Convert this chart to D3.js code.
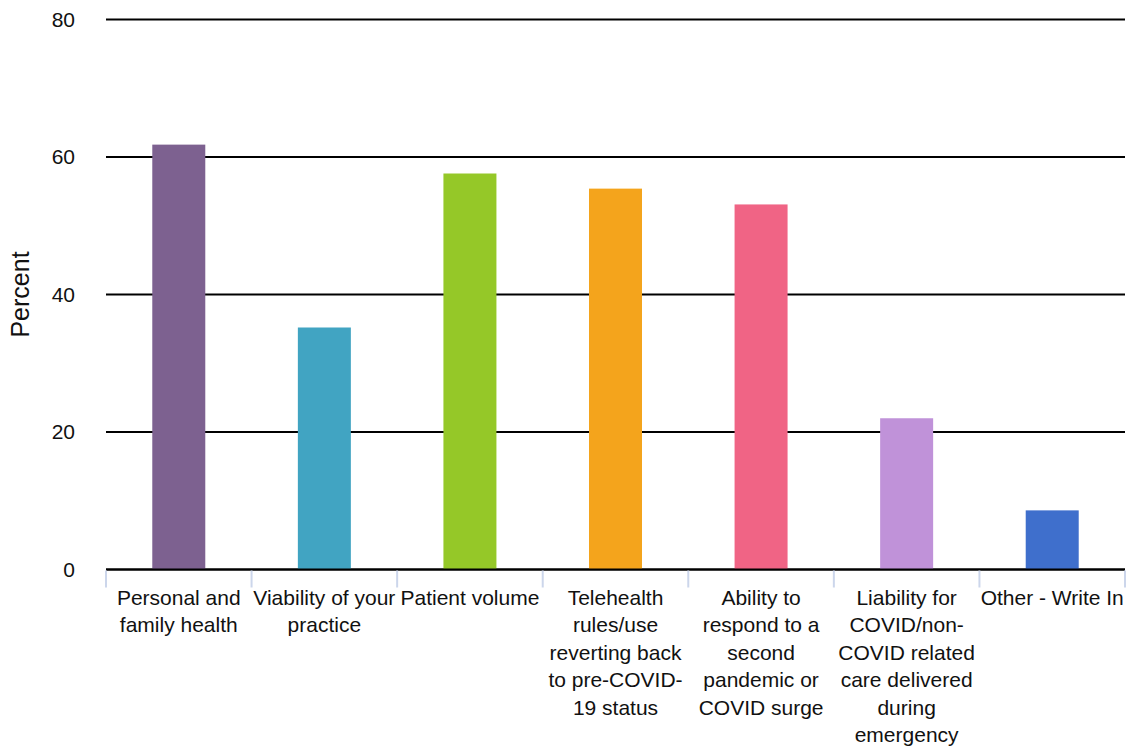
<!DOCTYPE html>
<html>
<head>
<meta charset="utf-8">
<script src="https://cdn.jsdelivr.net/npm/d3@7"></script>
<style>
  html, body { margin: 0; padding: 0; background: #fff; }
  svg { display: block; font-family: "Liberation Sans", Arial, Helvetica, sans-serif; }
</style>
</head>
<body>
<svg id="chart" width="1127" height="751"></svg>
<script>
const categories = [
  "Personal and family health",
  "Viability of your practice",
  "Patient volume",
  "Telehealth rules/use reverting back to pre-COVID-19 status",
  "Ability to respond to a second pandemic or COVID surge",
  "Liability for COVID/non-COVID related care delivered during emergency",
  "Other - Write In"
];
const values = [61.8, 35.2, 57.6, 55.4, 53.1, 22.0, 8.6];
const colors = ["#7d6190", "#41a4c2", "#95c828", "#f4a41c", "#f06485", "#c092d9", "#3f6fcc"];
const yTicks = [0, 20, 40, 60, 80];
const yTitle = "Percent";

const svg = d3.select("#chart");
const W = 1127, H = 751;
const plotLeft = 106, plotRight = 1125, plotTop = 19.5, plotBottom = 569.5;
const x = d3.scaleBand().domain(categories).range([plotLeft, plotRight]).paddingInner(0).paddingOuter(0);
const y = d3.scaleLinear().domain([0, 80]).range([plotBottom, plotTop]);

// gridlines
const grid = svg.append("g").attr("class", "grid");
grid.selectAll("line").data(yTicks).join("line")
  .attr("x1", plotLeft).attr("x2", plotRight)
  .attr("y1", d => y(d)).attr("y2", d => y(d))
  .attr("stroke", "#000").attr("stroke-width", 2);

// y labels
const yAxis = d3.axisLeft(y).tickValues(yTicks).tickSize(0).tickPadding(31);
const ya = svg.append("g").attr("transform", `translate(${plotLeft},0)`).call(yAxis);
ya.select(".domain").remove();
ya.selectAll("text").attr("font-size", 21).attr("fill", "#111").attr("font-family", "Liberation Sans, Arial, sans-serif");

// bars
const bw = 53;
svg.append("g").selectAll("rect").data(values).join("rect")
  .attr("x", (d, i) => x(categories[i]) + x.bandwidth() / 2 - bw / 2)
  .attr("width", bw)
  .attr("y", d => y(d))
  .attr("height", d => y(0) - y(d))
  .attr("fill", (d, i) => colors[i]);

// x axis line on top
svg.append("line").attr("x1", plotLeft).attr("x2", plotRight)
  .attr("y1", y(0)).attr("y2", y(0)).attr("stroke", "#000").attr("stroke-width", 2);

// category boundary ticks
const bounds = categories.map(c => x(c)).concat([x(categories[categories.length - 1]) + x.bandwidth()]);
svg.append("g").selectAll("line").data(bounds).join("line")
  .attr("x1", d => Math.min(d, W - 1.5)).attr("x2", d => Math.min(d, W - 1.5))
  .attr("y1", y(0) + 1).attr("y2", y(0) + 18)
  .attr("stroke", "#ccd6eb").attr("stroke-width", 2);

// wrapped category labels
const fontSize = 21;
const measurer = svg.append("text").attr("font-size", fontSize).attr("visibility", "hidden");
function measure(s) { measurer.text(s); return measurer.node().getComputedTextLength(); }
function tokenize(s) {
  const tokens = [];
  s.split(" ").forEach((w, wi) => {
    const parts = w.match(/[^-]+-|[^-]+$|-/g) || [w];
    parts.forEach((p, pi) => tokens.push({ t: p, space: pi === 0 && wi > 0 }));
  });
  return tokens;
}
function wrap(s, width) {
  const toks = tokenize(s);
  const lines = [];
  let cur = "";
  toks.forEach(tk => {
    const cand = cur === "" ? tk.t : cur + (tk.space ? " " : "") + tk.t;
    if (cur !== "" && measure(cand) > width) { lines.push(cur); cur = tk.t; }
    else cur = cand;
  });
  if (cur) lines.push(cur);
  return lines;
}
const lab = svg.append("g");
categories.forEach(c => {
  const lines = wrap(c, x.bandwidth());
  const t = lab.append("text")
    .attr("x", x(c) + x.bandwidth() / 2)
    .attr("y", 605)
    .attr("text-anchor", "middle")
    .attr("font-size", fontSize)
    .attr("fill", "#111");
  lines.forEach((l, i) => t.append("tspan").attr("x", x(c) + x.bandwidth() / 2).attr("dy", i === 0 ? 0 : 27.4).text(l));
});
measurer.remove();

// y title
svg.append("text")
  .attr("transform", `translate(29,${(y(0) + y(80)) / 2}) rotate(-90)`)
  .attr("text-anchor", "middle")
  .attr("font-size", 25)
  .attr("fill", "#111")
  .text(yTitle);
</script>
</body>
</html>
